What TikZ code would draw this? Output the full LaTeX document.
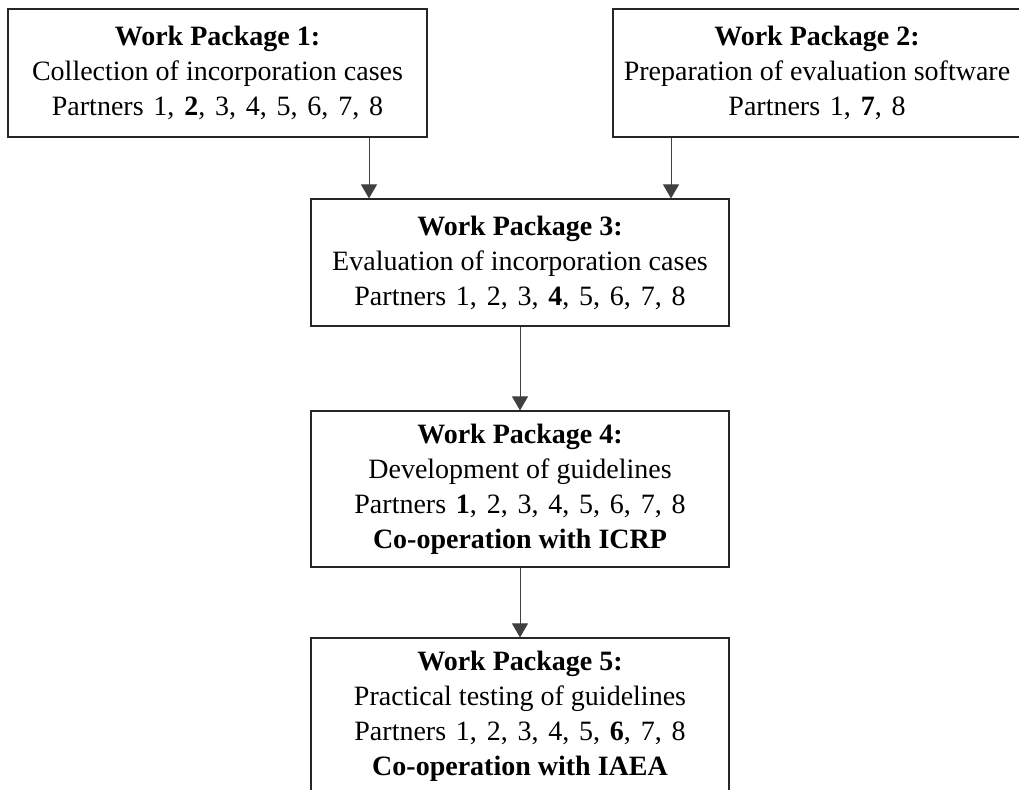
\documentclass[tikz,border=0pt]{standalone}
\usepackage{fontspec}
\setmainfont{Liberation Serif}
\usetikzlibrary{arrows.meta}
\newcommand\wpwide[1]{{\spaceskip=.35em\relax #1}}
\begin{document}
\begin{tikzpicture}[x=1pt,y=-1pt,
  wp/.style={draw=black!85, line width=1.2pt, align=center, inner sep=0pt,
    font=\fontsize{28}{35}\selectfont},
  arr/.style={draw=black!75, line width=1pt, -{Triangle[length=14pt,width=16pt]}}]
\useasboundingbox (0,0) rectangle (1019,789);
\clip (0,0) rectangle (1019,789);
\node[wp, minimum width=419pt, minimum height=128pt] (wp1) at (217.5,73)
  {\textbf{Work Package 1:}\\Collection of incorporation cases\\\wpwide{Partners 1, \textbf{2}, 3, 4, 5, 6, 7, 8}};
\node[wp, minimum width=408pt, minimum height=128pt] (wp2) at (817,73)
  {\textbf{Work Package 2:}\\Preparation of evaluation software\\\wpwide{Partners 1, \textbf{7}, 8}};
\node[wp, minimum width=418pt, minimum height=127pt] (wp3) at (520,262.5)
  {\textbf{Work Package 3:}\\Evaluation of incorporation cases\\\wpwide{Partners 1, 2, 3, \textbf{4}, 5, 6, 7, 8}};
\node[wp, minimum width=418pt, minimum height=156pt] (wp4) at (520,489)
  {\textbf{Work Package 4:}\\Development of guidelines\\\wpwide{Partners \textbf{1}, 2, 3, 4, 5, 6, 7, 8}\\\textbf{Co-operation with ICRP}};
\node[wp, minimum width=418pt, minimum height=156pt] (wp5) at (520,716)
  {\textbf{Work Package 5:}\\Practical testing of guidelines\\\wpwide{Partners 1, 2, 3, 4, 5, \textbf{6}, 7, 8}\\\textbf{Co-operation with IAEA}};
\coordinate (a1) at (369,0);
\coordinate (a2) at (671,0);
\draw[arr] (a1 |- wp1.south) -- (a1 |- wp3.north);
\draw[arr] (a2 |- wp2.south) -- (a2 |- wp3.north);
\draw[arr] (wp3.south) -- (wp4.north);
\draw[arr] (wp4.south) -- (wp5.north);
\end{tikzpicture}
\end{document}
